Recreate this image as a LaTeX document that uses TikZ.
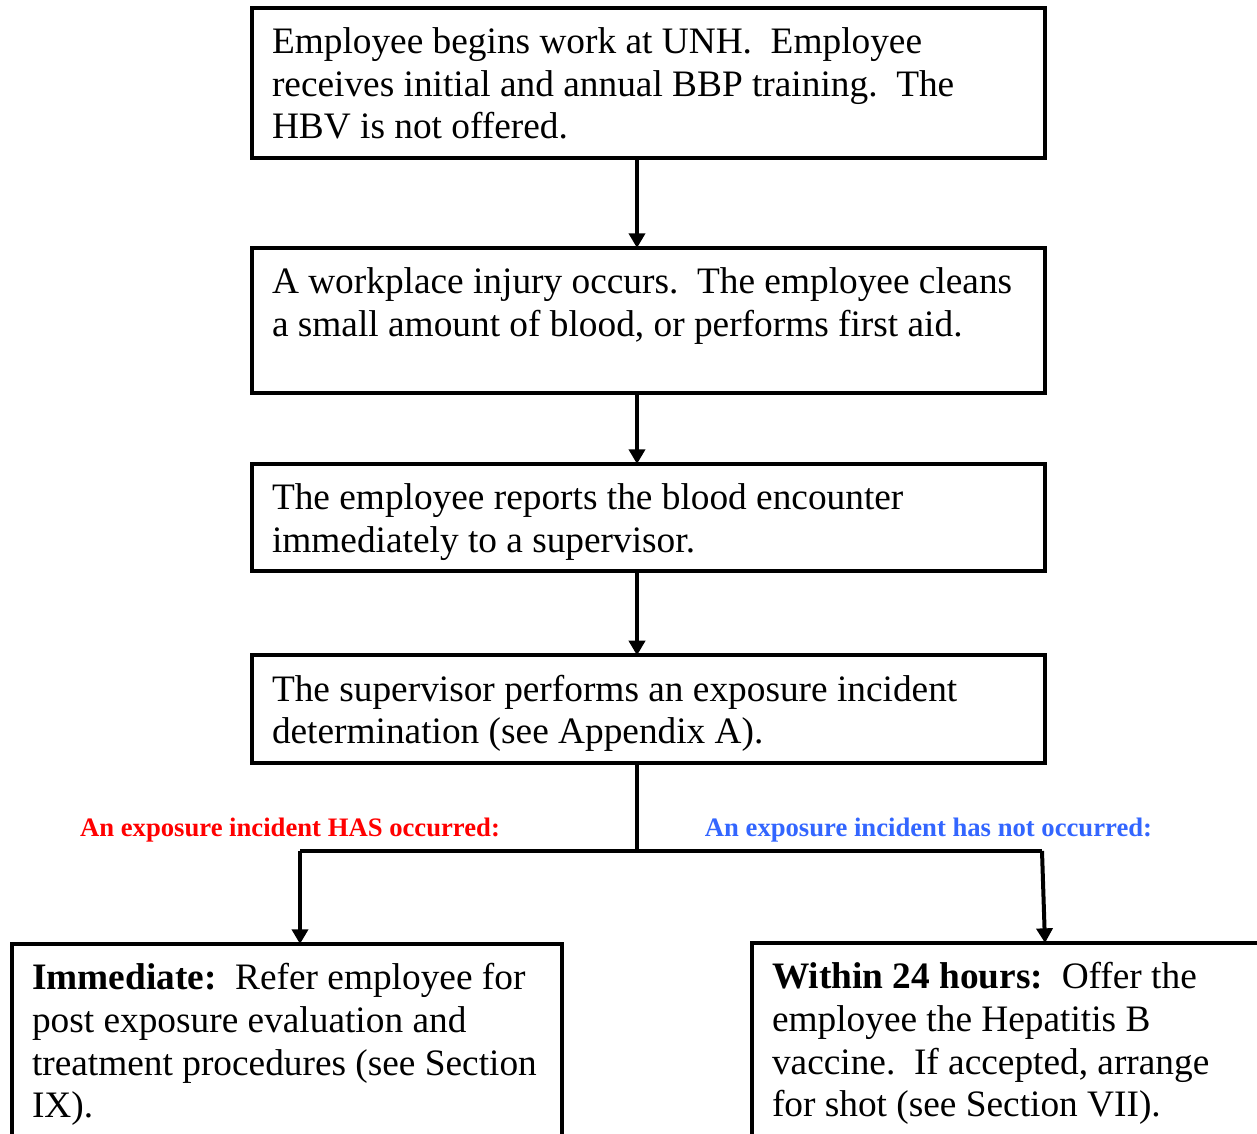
\documentclass[tikz,border=0pt]{standalone}
\usepackage{fontspec}
\setmainfont{Liberation Serif}
\usetikzlibrary{arrows.meta,positioning}
\setlength{\parindent}{0pt}
\newcommand{\rowstrut}{\rule[-6pt]{0pt}{32pt}}
\newcommand{\lastrowdepth}{6pt}
\newcommand{\lastrowstrut}{\rule[-\lastrowdepth]{0pt}{20pt}}
\newcommand{\plainspacing}{\spaceskip=0pt\xspaceskip=0pt\rightskip=0pt plus 1fil\hyphenpenalty=10000}
\definecolor{notblue}{RGB}{51,102,255}

\begin{document}
\begin{tikzpicture}[x=0.75pt,y=-0.75pt,>={Triangle[length=11pt,width=12pt]},line width=3pt]
\tikzstyle{stepbox} = [draw=black,align=left,outer sep=0pt,inner xsep=15pt,inner ysep=8.25pt,font=\fontsize{28pt}{32pt}\selectfont,execute at begin node=\plainspacing\rowstrut,execute at end node=\lastrowstrut]
\tikzstyle{widebox} = [stepbox,text width=564.75pt]
\tikzstyle{hasnote} = [font=\fontsize{20pt}{24pt}\selectfont\bfseries,text=red,inner sep=0pt,anchor=base]
\tikzstyle{notnote} = [hasnote,text=notblue]
    \useasboundingbox (0,0) rectangle (1257,1134);
    \clip (0,0) rectangle (1257,1134);

    \node[widebox,anchor=north west] (start) at (252,8) {Employee begins work at UNH.\ \ Employee\\receives initial and annual BBP training.\ \ The\\HBV is not offered.};
    \node[widebox,below=67.5pt of start,execute at begin node={\def\lastrowdepth{2.25pt}}] (injury) {A workplace injury occurs.\ \ The employee cleans\\a small amount of blood, or performs first aid.\\};
    \node[widebox,below=53.25pt of injury] (report) {The employee reports the blood encounter\\immediately to a supervisor.};
    \node[widebox,below=63pt of report] (determine) {The supervisor performs an exposure incident\\determination (see Appendix A).};
    \node[stepbox,text width=382.5pt,anchor=north west] (exposed) at (12,944) {\textbf{Immediate:}\ \ Refer employee for\\post exposure evaluation and\\treatment procedures (see Section\\IX).};
    \node[stepbox,text width=375pt,anchor=north west] (safe) at (752,943) {\textbf{Within 24 hours:}\ \ Offer the\\employee the Hepatitis B\\vaccine.\ \ If accepted, arrange\\for shot (see Section VII).};

    \node[hasnote] (haslabel) at (290,836) {An exposure incident HAS occurred:};
    \node[notnote] (notlabel) at (928.5,836) {An exposure incident has not occurred:};

    \coordinate (spine) at (637,0);
    \coordinate (split) at (637,851);
    \coordinate (hasturn) at (300,851);
    \coordinate (notturn) at (1042,851);
    \coordinate (notend) at (1045,943);

    \draw[->] (start.south -| spine) -- (injury.north -| spine);
    \draw[->] (injury.south -| spine) -- (report.north -| spine);
    \draw[->] (report.south -| spine) -- (determine.north -| spine);
    \draw (determine.south -| spine) -- (split);
    \draw (hasturn) -- (notturn);
    \draw[->] (hasturn) -- (hasturn |- exposed.north);
    \draw[->] (notturn) -- (notend);

\end{tikzpicture}
\end{document}
